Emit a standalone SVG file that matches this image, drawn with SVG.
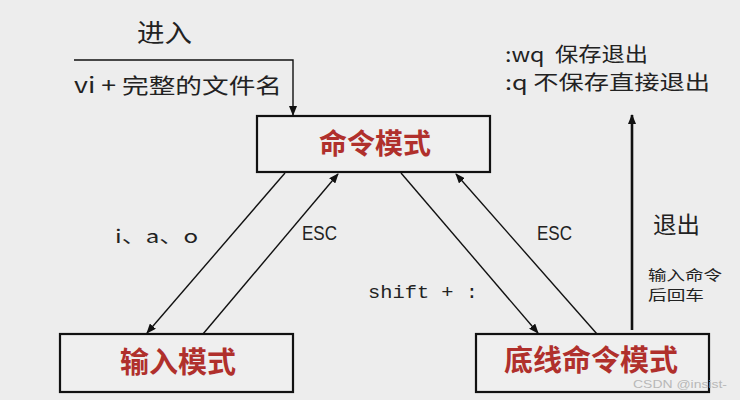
<svg xmlns="http://www.w3.org/2000/svg" width="740" height="400" viewBox="0 0 740 400">
<defs>
<marker id="ah" markerUnits="userSpaceOnUse" markerWidth="10" markerHeight="8" refX="9" refY="4" orient="auto">
<path d="M0,0 L10,4 L0,8 z" fill="#111"/>
</marker>
<style>
.box{fill:#efefef;stroke:#111;stroke-width:2.2}
.mode{font-family:"Noto Sans CJK SC","Noto Sans",sans-serif;font-weight:700;fill:#b0302c;text-anchor:middle}
.lbl{font-family:"Noto Sans CJK SC","Liberation Sans",sans-serif;fill:#222}
.mono{font-family:"Liberation Mono","Noto Sans CJK SC",monospace;fill:#222}
.esc{font-family:"Liberation Sans",sans-serif;fill:#222;font-size:21px}
.ln{stroke:#111;stroke-width:1.4;fill:none}
</style>
</defs>
<rect width="740" height="400" fill="#ededed"/>

<g id="cmd">
<rect class="box" x="257" y="116" width="233" height="56"/>
<text class="mode" x="375" y="154" font-size="28">命令模式</text>
</g>
<g id="input">
<rect class="box" x="60" y="334" width="233" height="58"/>
<text class="mode" x="178" y="373" font-size="29">输入模式</text>
</g>
<g id="lastline">
<rect class="box" x="476" y="334" width="233" height="58"/>
<text class="mode" x="591" y="371" font-size="29">底线命令模式</text>
</g>

<g id="connectors">
<path class="ln" d="M74,60 H293 V115" marker-end="url(#ah)"/>
<line class="ln" x1="285" y1="173" x2="147" y2="333" marker-end="url(#ah)"/>
<line class="ln" x1="203" y1="334" x2="338" y2="174" marker-end="url(#ah)"/>
<line class="ln" x1="401" y1="173" x2="538" y2="333" marker-end="url(#ah)"/>
<line class="ln" x1="597" y1="334" x2="456" y2="174" marker-end="url(#ah)"/>
<line x1="632" y1="330" x2="632" y2="115" stroke="#111" stroke-width="2.6" marker-end="url(#ah)"/>
</g>

<g id="labels">
<text class="lbl" x="137" y="42" font-size="25" textLength="55" lengthAdjust="spacingAndGlyphs">进入</text>
<text class="lbl" x="74" y="93" font-size="21" textLength="208" lengthAdjust="spacingAndGlyphs" xml:space="preserve">vi + 完整的文件名</text>
<text class="lbl" x="505" y="62" font-size="20" textLength="143" lengthAdjust="spacingAndGlyphs" xml:space="preserve">:wq  保存退出</text>
<text class="lbl" x="505" y="90" font-size="20" textLength="205" lengthAdjust="spacingAndGlyphs">:q 不保存直接退出</text>
<text class="lbl" x="115" y="243" font-size="18" textLength="83" lengthAdjust="spacingAndGlyphs">i、a、o</text>
<text class="esc" x="302" y="240" textLength="35" lengthAdjust="spacingAndGlyphs">ESC</text>
<text class="esc" x="537" y="240" textLength="35" lengthAdjust="spacingAndGlyphs">ESC</text>
<text class="mono" x="368" y="298" font-size="19" textLength="110" lengthAdjust="spacingAndGlyphs">shift + :</text>
<text class="lbl" x="653" y="233" font-size="23" textLength="47" lengthAdjust="spacingAndGlyphs">退出</text>
<text class="lbl" x="648" y="280" font-size="14" textLength="74" lengthAdjust="spacingAndGlyphs">输入命令</text>
<text class="lbl" x="648" y="300" font-size="14" textLength="56" lengthAdjust="spacingAndGlyphs">后回车</text>
<text x="633" y="388" font-family="Liberation Sans,sans-serif" font-size="11" fill="#b8b8b8" textLength="94" lengthAdjust="spacingAndGlyphs">CSDN @insist-</text>
</g>
</svg>
